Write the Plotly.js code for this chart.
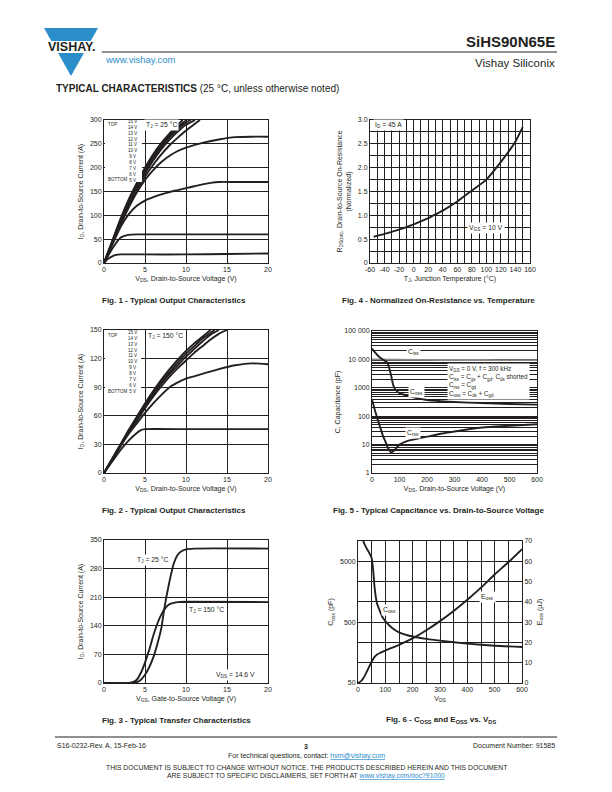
<!DOCTYPE html>
<html>
<head>
<meta charset="utf-8">
<script src="https://cdn.plot.ly/plotly-3.0.1.min.js"></script>
<style>
  html, body { margin: 0; padding: 0; background: #fff; }
  #page { width: 612px; height: 792px; }
</style>
</head>
<body>
<div id="page"></div>
<script>
// ---- Fig. 1 - output characteristics, TJ = 25 °C ----
const fig1Top1X = [0, 1, 2, 3, 4, 5, 6, 7, 8, 9, 9.6];
const fig1Top1Y = [0, 46, 92, 133, 168, 200, 228, 252, 272, 290, 300];
const fig1Top2X = [0, 1, 2, 3, 4, 5, 6, 7, 8, 9, 10, 10.1];
const fig1Top2Y = [0, 45, 90, 130, 164, 196, 224, 248, 268, 285, 299, 300];
const fig1Top3X = [0, 1, 2, 3, 4, 5, 6, 7, 8, 9, 10, 10.6];
const fig1Top3Y = [0, 44, 88, 128, 161, 192, 220, 244, 264, 281, 295, 300];
const fig1Top4X = [0, 1, 2, 3, 4, 5, 6, 7, 8, 9, 10, 11, 11.1];
const fig1Top4Y = [0, 43, 86, 125, 158, 188, 215, 239, 259, 276, 290, 299, 300];
const fig1SepX = [0, 1, 2, 3, 4, 5, 6, 7, 8, 9, 10, 11, 11.7];
const fig1SepY = [0, 42, 84, 120, 152, 181, 206, 228, 247, 263, 278, 291, 300];
const fig1Mid1X = [0, 1, 2, 3, 4, 5, 6, 7, 8, 9, 10, 12, 14, 16, 18, 20];
const fig1Mid1Y = [0, 40, 80, 116, 148, 174, 195, 212, 225, 235, 242, 252, 259, 264, 265, 265];
const fig1Mid2X = [0, 1, 2, 3, 4, 5, 6, 7, 8, 9, 10, 11, 12, 13, 14, 16, 18, 20];
const fig1Mid2Y = [0, 38, 75, 102, 120, 131, 138, 144, 149, 153, 157, 161, 165, 168, 170, 170, 170, 170];
const fig1Low1X = [0, 1, 2, 2.5, 3, 4, 6, 10, 20];
const fig1Low1Y = [0, 30, 53, 57, 59, 60, 60, 60, 60];
const fig1Low2X = [0, 0.5, 1, 1.5, 2, 3, 5, 10, 15, 20];
const fig1Low2Y = [0, 9, 14, 17, 18, 18, 18, 18, 19, 20];
const vgsLabels = ["15 V", "14 V", "13 V", "12 V", "11 V", "10 V", "9 V", "8 V", "7 V", "6 V", "5 V"];

// ---- Fig. 2 - output characteristics, TJ = 150 °C ----
const fig2Top1X = [0, 1, 2, 3, 4, 5, 6, 7, 8, 9, 10, 11, 12, 13];
const fig2Top1Y = [0, 15, 30, 45, 59, 73, 86, 98, 109, 119, 128, 136, 143, 150];
const fig2Top2X = [0, 1, 2, 3, 4, 5, 6, 7, 8, 9, 10, 11, 12, 13, 13.5];
const fig2Top2Y = [0, 15, 29, 44, 58, 71, 84, 96, 106, 116, 125, 133, 141, 147, 150];
const fig2Top3X = [0, 1, 2, 3, 4, 5, 6, 7, 8, 9, 10, 11, 12, 13, 14];
const fig2Top3Y = [0, 14, 29, 43, 57, 70, 82, 94, 104, 113, 122, 130, 138, 145, 150];
const fig2SepX = [0, 1, 2, 3, 4, 5, 6, 7, 8, 9, 10, 11, 12, 13, 14, 15];
const fig2SepY = [0, 14, 28, 42, 55, 68, 80, 91, 101, 110, 118, 126, 133, 140, 146, 150];
const fig2MidX = [0, 1, 2, 3, 4, 5, 6, 7, 8, 9, 10, 12, 14, 16, 18, 20];
const fig2MidY = [0, 14, 28, 41, 52, 63, 73, 82, 90, 95, 99, 104, 109, 113, 115, 114];
const fig2LowX = [0, 1, 2, 3, 4, 4.5, 5, 10, 15, 20];
const fig2LowY = [0, 12, 24, 34, 42, 45, 46, 46, 46, 46];

// ---- Fig. 3 - transfer characteristics ----
const fig3T25X = [0, 3, 4, 4.5, 5, 5.5, 6, 6.5, 7, 7.3, 7.6, 8, 8.5, 9, 9.5, 10, 11, 20];
const fig3T25Y = [0, 0, 2, 8, 20, 38, 62, 95, 135, 175, 210, 250, 292, 314, 323, 327, 329, 329];
const fig3T150X = [0, 3, 3.5, 4, 4.5, 5, 5.5, 6, 6.5, 7, 7.5, 8, 8.5, 9, 10, 20];
const fig3T150Y = [0, 0, 2, 8, 25, 50, 80, 115, 145, 168, 184, 193, 196, 198, 199, 198];

// ---- Fig. 4 - normalized on-resistance ----
const fig4Tj = [-55, -40, -20, 0, 20, 25, 40, 60, 80, 100, 120, 140, 150];
const fig4Rds = [0.55, 0.61, 0.70, 0.81, 0.94, 0.98, 1.10, 1.29, 1.52, 1.75, 2.12, 2.55, 2.85];

// ---- Fig. 5 - capacitance ----
const fig5CissV = [0, 100, 200, 300, 400, 500, 600];
const fig5Ciss = [10000, 9700, 9600, 9500, 9500, 9400, 9400];
const fig5CossV = [0, 10, 20, 30, 40, 50, 55, 60, 65, 70, 75, 80, 90, 100, 125, 150, 200, 250, 300, 400, 500, 600];
const fig5Coss = [24000, 18000, 14000, 11500, 9800, 8600, 7800, 6000, 4100, 2600, 1500, 1050, 760, 650, 540, 460, 370, 335, 315, 290, 270, 255];
const fig5CrssV = [0, 10, 20, 30, 40, 50, 60, 70, 80, 90, 100, 125, 150, 200, 250, 300, 400, 500, 600];
const fig5Crss = [380, 170, 80, 40, 20, 12, 7, 5.3, 6, 8, 10, 13, 15, 19, 24, 29, 40, 46, 52];
const fig5TickVals = [1, 10, 100, 1000, 10000, 100000];
const fig5TickText = ["1", "10", "100", "1000", "10 000", "100 000"];

// ---- Fig. 6 - Coss and Eoss ----
const fig6CossV = [0, 10, 20, 30, 40, 50, 55, 60, 65, 70, 80, 90, 100, 125, 150, 200, 250, 300, 400, 500, 600];
const fig6Coss = [24000, 16000, 10500, 8400, 7000, 5600, 3800, 2000, 1300, 1000, 760, 600, 520, 400, 340, 290, 265, 248, 222, 205, 195];
const fig6EossV = [0, 10, 20, 30, 40, 50, 60, 70, 80, 100, 150, 200, 250, 300, 350, 400, 450, 500, 550, 600];
const fig6Eoss = [0, 0.8, 2.5, 5, 7.8, 10.5, 12.8, 14, 14.8, 16, 18.8, 22, 26, 30.5, 35.5, 41, 47, 53.5, 59.5, 66];
const fig6CossTicks = [50, 500, 5000];

const PAGE_W = 612;
const PAGE_H = 792;
const INK = "#231f20";
const BLUE = "#2b8ecb";
const FONT = "Liberation Sans, Arial, sans-serif";

function px(x) { return x / PAGE_W; }
function py(y) { return 1 - y / PAGE_H; }

const traces = [];
function addCurve(xs, ys, xaxis, yaxis, color = INK) {
  traces.push({
    type: "scatter",
    mode: "lines",
    x: xs,
    y: ys,
    xaxis,
    yaxis,
    line: { color, width: 1.9, shape: "spline", smoothing: 0.5 },
    hoverinfo: "skip",
    showlegend: false,
  });
}

addCurve(fig1Top1X, fig1Top1Y, "x", "y");
addCurve(fig1Top2X, fig1Top2Y, "x", "y");
addCurve(fig1Top3X, fig1Top3Y, "x", "y");
addCurve(fig1Top4X, fig1Top4Y, "x", "y");
addCurve(fig1SepX, fig1SepY, "x", "y");
addCurve(fig1Mid1X, fig1Mid1Y, "x", "y");
addCurve(fig1Mid2X, fig1Mid2Y, "x", "y");
addCurve(fig1Low1X, fig1Low1Y, "x", "y");
addCurve(fig1Low2X, fig1Low2Y, "x", "y");

addCurve(fig4Tj, fig4Rds, "x2", "y2");

addCurve(fig2Top1X, fig2Top1Y, "x3", "y3");
addCurve(fig2Top2X, fig2Top2Y, "x3", "y3");
addCurve(fig2Top3X, fig2Top3Y, "x3", "y3");
addCurve(fig2SepX, fig2SepY, "x3", "y3");
addCurve(fig2MidX, fig2MidY, "x3", "y3");
addCurve(fig2LowX, fig2LowY, "x3", "y3");

addCurve(fig5CissV, fig5Ciss, "x4", "y4", "#8a8a8a");
addCurve(fig5CossV, fig5Coss, "x4", "y4");
addCurve(fig5CrssV, fig5Crss, "x4", "y4");

addCurve(fig3T25X, fig3T25Y, "x5", "y5");
addCurve(fig3T150X, fig3T150Y, "x5", "y5");

addCurve(fig6CossV, fig6Coss, "x6", "y6");
addCurve(fig6EossV, fig6Eoss, "x6", "y7");

const tickFont = { family: FONT, size: 7, color: INK };
const titleFont = { family: FONT, size: 7, color: INK };

function frameAxis(extra) {
  return {
    showline: true,
    mirror: true,
    linecolor: INK,
    linewidth: 1,
    ticks: "",
    zeroline: false,
    showgrid: true,
    gridcolor: INK,
    gridwidth: 1,
    tickfont: tickFont,
    fixedrange: true,
    ...extra,
  };
}

const xDomLeft = [px(104), px(268)];

const layout = {
  width: PAGE_W,
  height: PAGE_H,
  margin: { l: 0, r: 0, t: 0, b: 0 },
  paper_bgcolor: "#ffffff",
  plot_bgcolor: "#ffffff",
  font: { family: FONT, color: INK },
  showlegend: false,

  // Fig. 1
  xaxis: frameAxis({ domain: xDomLeft, anchor: "y", range: [0, 20], dtick: 5,
    title: { text: "V<sub>DS</sub>, Drain-to-Source Voltage (V)", font: titleFont, standoff: 3 } }),
  yaxis: frameAxis({ domain: [py(263), py(120)], anchor: "x", range: [0, 300], dtick: 50,
    title: { text: "I<sub>D</sub>, Drain-to-Source Current (A)", font: titleFont, standoff: 5 } }),

  // Fig. 4
  xaxis2: frameAxis({ domain: [px(370), px(530)], anchor: "y2", range: [-60, 160],
    tickvals: [-60, -40, -20, 0, 20, 40, 60, 80, 100, 120, 140, 160],
    ticktext: ["-60", "-40", "-20", "0", "20", "40", "60", "80", "100", "120", "140", "160"],
    minor: { dtick: 10, showgrid: true, gridcolor: INK, gridwidth: 1, ticks: "" },
    title: { text: "T<sub>J</sub>, Junction Temperature (°C)", font: titleFont, standoff: 3 } }),
  yaxis2: frameAxis({ domain: [py(263), py(120)], anchor: "x2", range: [0, 3],
    tickvals: [0, 0.5, 1, 1.5, 2, 2.5, 3],
    ticktext: ["0", "0.5", "1.0", "1.5", "2.0", "2.5", "3.0"],
    minor: { dtick: 0.25, showgrid: true, gridcolor: INK, gridwidth: 1, ticks: "" },
    title: { text: "R<sub>DS(on)</sub>, Drain-to-Source On-Resistance<br>(Normalized)", font: titleFont, standoff: 5 } }),

  // Fig. 2
  xaxis3: frameAxis({ domain: xDomLeft, anchor: "y3", range: [0, 20], dtick: 5,
    title: { text: "V<sub>DS</sub>, Drain-to-Source Voltage (V)", font: titleFont, standoff: 3 } }),
  yaxis3: frameAxis({ domain: [py(473), py(330)], anchor: "x3", range: [0, 150], dtick: 30,
    title: { text: "I<sub>D</sub>, Drain-to-Source Current (A)", font: titleFont, standoff: 5 } }),

  // Fig. 5
  xaxis4: frameAxis({ domain: [px(372), px(537)], anchor: "y4", range: [0, 600], dtick: 100, showgrid: false,
    title: { text: "V<sub>DS</sub>, Drain-to-Source Voltage (V)", font: titleFont, standoff: 3 } }),
  yaxis4: frameAxis({ domain: [py(473), py(331)], anchor: "x4", type: "log", range: [0, 5],
    tickvals: fig5TickVals, ticktext: fig5TickText,
    minor: { dtick: "D1", showgrid: true, gridcolor: INK, gridwidth: 1, ticks: "" },
    title: { text: "C, Capacitance (pF)", font: titleFont, standoff: 2 } }),

  // Fig. 3
  xaxis5: frameAxis({ domain: xDomLeft, anchor: "y5", range: [0, 20], dtick: 5,
    title: { text: "V<sub>GS</sub>, Gate-to-Source Voltage (V)", font: titleFont, standoff: 3 } }),
  yaxis5: frameAxis({ domain: [py(683), py(540)], anchor: "x5", range: [0, 350], dtick: 70,
    title: { text: "I<sub>D</sub>, Drain-to-Source Current (A)", font: titleFont, standoff: 5 } }),

  // Fig. 6
  xaxis6: frameAxis({ domain: [px(358), px(522)], anchor: "y6", range: [0, 600], dtick: 100,
    minor: { dtick: 50, showgrid: true, gridcolor: INK, gridwidth: 1, ticks: "" },
    title: { text: "V<sub>DS</sub>", font: titleFont, standoff: 3 } }),
  yaxis6: frameAxis({ domain: [py(683), py(541)], anchor: "x6", type: "log",
    range: [Math.log10(50), Math.log10(50) + 7 / 3], tickvals: fig6CossTicks, showgrid: false, mirror: false,
    title: { text: "C<sub>oss</sub> (pF)", font: titleFont, standoff: 5 } }),
  yaxis7: frameAxis({ overlaying: "y6", anchor: "x6", side: "right", range: [0, 70], dtick: 10, mirror: false,
    title: { text: "E<sub>oss</sub> (µJ)", font: titleFont, standoff: 5 } }),

  shapes: [],
  annotations: [],
};

function note(text, x, y, extra = {}) {
  layout.annotations.push({
    text,
    xref: "paper",
    yref: "paper",
    x: px(x),
    y: py(y),
    showarrow: false,
    xanchor: "left",
    yanchor: "middle",
    font: { family: FONT, size: 6.8, color: INK },
    ...extra,
  });
}

function boxNote(text, x, y, extra = {}) {
  note(text, x, y, { bgcolor: "#ffffff", borderpad: 1, ...extra });
}

// header
layout.shapes.push(
  { type: "path", xref: "paper", yref: "paper", layer: "above",
    path: `M ${px(44)},${py(28)} L ${px(98)},${py(28)} L ${px(71)},${py(76)} Z`,
    fillcolor: BLUE, line: { width: 0 } },
  { type: "rect", xref: "paper", yref: "paper", layer: "above",
    x0: px(40), x1: px(102), y0: py(53), y1: py(41), fillcolor: "#ffffff", line: { width: 0 } },
  { type: "line", xref: "paper", yref: "paper", x0: px(102), x1: px(557), y0: py(52), y1: py(52),
    line: { color: INK, width: 1 } },
  { type: "line", xref: "paper", yref: "paper", x0: px(55), x1: px(557), y0: py(737), y1: py(737),
    line: { color: INK, width: 1 } },
  // white blocks behind the gate voltage lists
  { type: "rect", xref: "paper", yref: "paper", layer: "above",
    x0: px(105), x1: px(142), y0: py(182), y1: py(121), fillcolor: "#ffffff", line: { width: 0 } },
  { type: "rect", xref: "paper", yref: "paper", layer: "above",
    x0: px(105), x1: px(141), y0: py(394), y1: py(331), fillcolor: "#ffffff", line: { width: 0 } },
);

note("<b>VISHAY.</b>", 71, 47, { xanchor: "center", font: { family: FONT, size: 12.5, color: INK } });
note("<b>SiHS90N65E</b>", 557, 41, { xanchor: "right", font: { family: FONT, size: 15, color: INK } });
note("www.vishay.com", 103, 59, { font: { family: FONT, size: 9.5, color: BLUE } });
note("Vishay Siliconix", 557, 63, { xanchor: "right", font: { family: FONT, size: 11.5, color: INK } });
note("<b>TYPICAL CHARACTERISTICS</b> (25 °C, unless otherwise noted)", 54, 88,
  { font: { family: FONT, size: 10, color: INK } });

// Fig. 1 labels
const listFont = { family: FONT, size: 4.5, color: INK };
note("TOP", 106, 124, { font: listFont });
note("BOTTOM", 106, 179, { font: listFont });
note(vgsLabels.join("<br>"), 126, 151, { font: listFont });
boxNote("T<sub>J</sub> = 25 °C", 144, 125);

// Fig. 2 labels
note("TOP", 106, 335, { font: listFont });
note("BOTTOM", 106, 391, { font: listFont });
note(vgsLabels.join("<br>"), 126, 362, { font: listFont });
boxNote("T<sub>J</sub> = 150 °C", 146, 336);

// Fig. 3 labels
boxNote("T<sub>J</sub> = 25 °C", 135, 560);
boxNote("T<sub>J</sub> = 150 °C", 187, 610);
boxNote("V<sub>DS</sub> = 14.6 V", 214, 675);

// Fig. 4 labels
boxNote("I<sub>D</sub> = 45 A", 373, 125);
boxNote("V<sub>GS</sub> = 10 V", 467, 228);

// Fig. 5 labels
boxNote("C<sub>iss</sub>", 406, 352);
boxNote("C<sub>oss</sub>", 408, 392);
boxNote("C<sub>rss</sub>", 405, 433);
boxNote(
  "V<sub>GS</sub> = 0 V, f = 300 kHz<br>" +
    "C<sub>iss</sub> = C<sub>gs</sub> + C<sub>gd</sub>, C<sub>ds</sub> shorted<br>" +
    "C<sub>rss</sub> = C<sub>gd</sub><br>" +
    "C<sub>oss</sub> = C<sub>ds</sub> + C<sub>gd</sub>",
  447, 382, { align: "left", font: { family: FONT, size: 6.3, color: INK } });

// Fig. 6 labels
boxNote("C<sub>oss</sub>", 381, 610);
boxNote("E<sub>oss</sub>", 479, 597);

// captions
const capFont = { family: FONT, size: 8, color: INK };
note("<b>Fig. 1 - Typical Output Characteristics</b>", 174, 300, { xanchor: "center", font: capFont });
note("<b>Fig. 4 - Normalized On-Resistance vs. Temperature</b>", 438, 300, { xanchor: "center", font: capFont });
note("<b>Fig. 2 - Typical Output Characteristics</b>", 174, 510, { xanchor: "center", font: capFont });
note("<b>Fig. 5 - Typical Capacitance vs. Drain-to-Source Voltage</b>", 438, 510, { xanchor: "center", font: capFont });
note("<b>Fig. 3 - Typical Transfer Characteristics</b>", 176, 720, { xanchor: "center", font: capFont });
note("<b>Fig. 6 - C<sub>OSS</sub> and E<sub>OSS</sub> vs. V<sub>DS</sub></b>", 441, 720, { xanchor: "center", font: capFont });

// footer
const footFont = { family: FONT, size: 7, color: INK };
const discFont = { family: FONT, size: 6.8, color: INK };
note("S16-0232-Rev. A, 15-Feb-16", 55, 745, { font: footFont });
note("<b>3</b>", 306, 746, { xanchor: "center", font: footFont });
note("Document Number: 91585", 557, 745, { xanchor: "right", font: footFont });
note('For technical questions, contact: <span style="color:' + BLUE + ';text-decoration:underline">hvm@vishay.com</span>',
  306, 756, { xanchor: "center", font: footFont });
note("THIS DOCUMENT IS SUBJECT TO CHANGE WITHOUT NOTICE. THE PRODUCTS DESCRIBED HEREIN AND THIS DOCUMENT", 306, 767,
  { xanchor: "center", font: discFont });
note('ARE SUBJECT TO SPECIFIC DISCLAIMERS, SET FORTH AT <span style="color:' + BLUE + ';text-decoration:underline">www.vishay.com/doc?91000</span>',
  306, 776, { xanchor: "center", font: discFont });

Plotly.newPlot("page", traces, layout, { staticPlot: true, displayModeBar: false });
</script>
</body>
</html>
